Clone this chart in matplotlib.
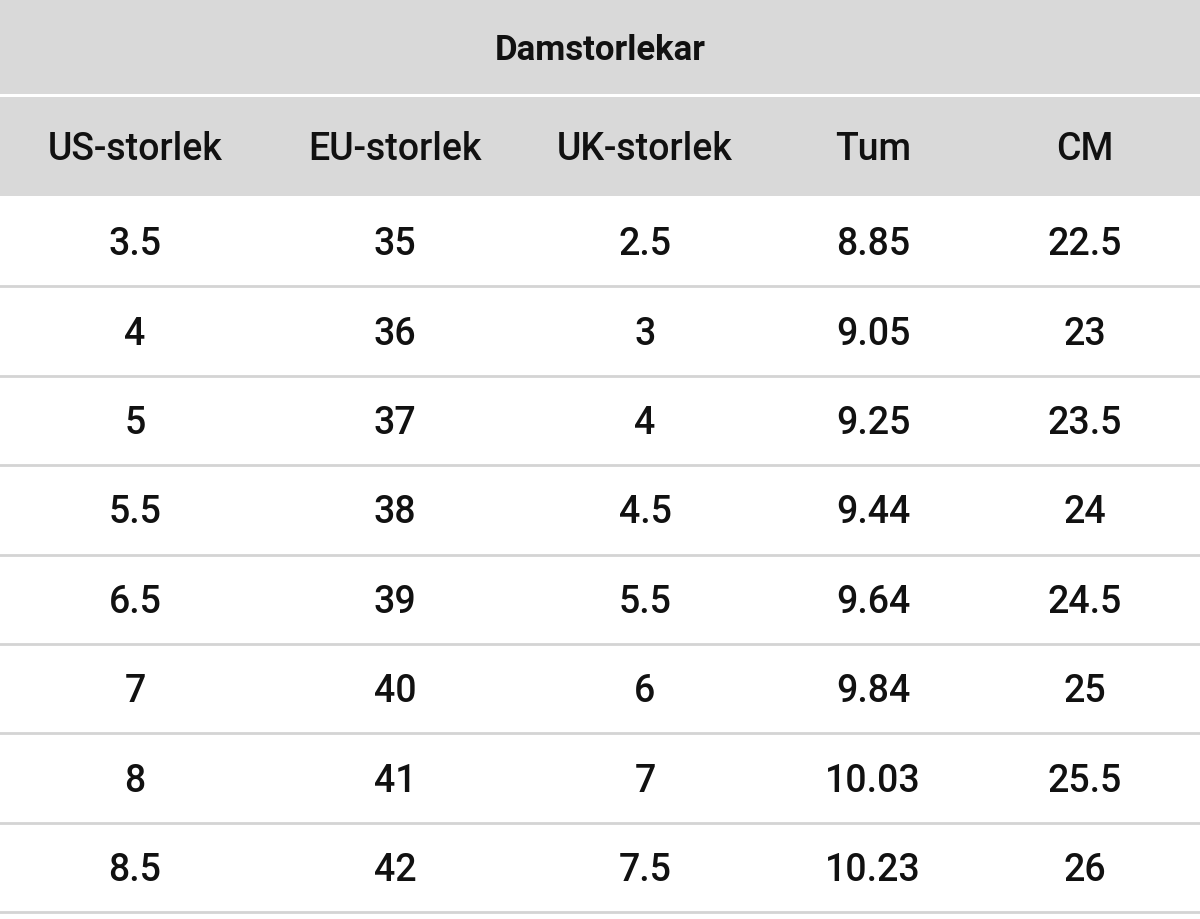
import matplotlib.pyplot as plt
from matplotlib.patches import Rectangle

title = 'Damstorlekar'
columns = ['US-storlek', 'EU-storlek', 'UK-storlek', 'Tum', 'CM']
us = ['3.5', '4', '5', '5.5', '6.5', '7', '8', '8.5']
eu = ['35', '36', '37', '38', '39', '40', '41', '42']
uk = ['2.5', '3', '4', '4.5', '5.5', '6', '7', '7.5']
tum = ['8.85', '9.05', '9.25', '9.44', '9.64', '9.84', '10.03', '10.23']
cm = ['22.5', '23', '23.5', '24', '24.5', '25', '25.5', '26']

plt.rcParams['font.family'] = ['Roboto', 'DejaVu Sans']

fig = plt.figure(figsize=(12, 9.19), dpi=100)
ax = fig.add_axes([0, 0, 1, 1])
ax.set_xlim(0, 1200)
ax.set_ylim(919, 0)
ax.axis('off')

col_x = [135, 395, 645, 873, 1085]
gray = '#d9d9d9'
ax.add_patch(Rectangle((0, 0), 1200, 94, color=gray, lw=0))
ax.add_patch(Rectangle((0, 97), 1200, 99, color=gray, lw=0))
ax.text(600, 51, title, ha='center', va='center', fontsize=25, fontweight='bold', color='#111111')
for x, c in zip(col_x, columns):
    ax.text(x, 150, c, ha='center', va='center', fontsize=27, fontweight='medium', color='#111111')

row_h = 89.4
top = 197
cols = [us, eu, uk, tum, cm]
for i in range(len(us)):
    yc = top + row_h * i + row_h / 2 + 3
    for x, col in zip(col_x, cols):
        ax.text(x, yc, col[i], ha='center', va='center', fontsize=27, fontweight='medium', color='#111111')
    ax.plot([0, 1200], [top + row_h * (i + 1)] * 2, color='#d4d4d4', lw=2)

fig.savefig('out.png', dpi=100, facecolor='white')
